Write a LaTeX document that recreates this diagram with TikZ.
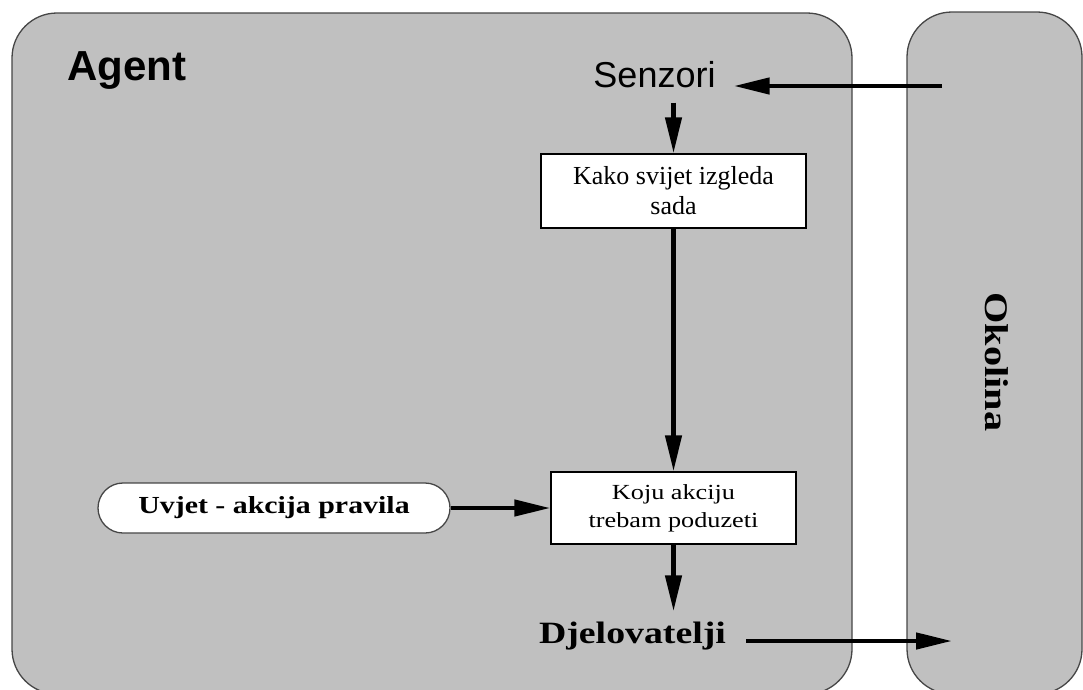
\documentclass[tikz,border=0pt]{standalone}
\usepackage{fontspec}
\setmainfont{Liberation Serif}
\newfontfamily\serifwide[FakeStretch=1.22]{Liberation Serif}
\newfontfamily\arialfont{Liberation Sans}
\usetikzlibrary{arrows.meta,shapes.misc}
\definecolor{panelgray}{RGB}{192,192,192}
\definecolor{edgegray}{RGB}{70,70,70}
\tikzset{
  panel/.style={fill=panelgray, draw=edgegray, line width=1.3pt, rounded corners=45pt},
  whitebox/.style={draw=black, fill=white, line width=1.3pt, inner sep=0pt, align=center},
  arr/.style={line width=4.5pt, -{Triangle[length=36pt,width=16pt]}},
}
\begin{document}
\begin{tikzpicture}[x=1pt,y=-1pt]
\useasboundingbox (0,0) rectangle (1083,689);
\clip (0,0) rectangle (1083,689);
% panels
\path[panel] (12,13) rectangle (852,694);
\path[panel] (907,12) rectangle (1082,694);
% labels
\node[anchor=base west, inner sep=0pt, font=\arialfont\bfseries\fontsize{42pt}{48pt}\selectfont] (agent) at (67,80) {Agent};
\node[anchor=base, inner xsep=18pt, inner ysep=15pt, font=\arialfont\fontsize{36pt}{42pt}\selectfont] (senz) at (654.5,87) {Senzori};
\node[whitebox, minimum width=265pt, minimum height=74pt, font=\fontsize{26pt}{30pt}\selectfont] (b1) at (673.5,191) {Kako svijet izgleda\\sada};
\node[whitebox, minimum width=245pt, minimum height=72pt, font=\serifwide\fontsize{21.5pt}{28pt}\selectfont] (b2) at (673.5,508) {Koju akciju\\trebam poduzeti};
\node[rounded rectangle, draw=edgegray, fill=white, line width=1.3pt, minimum width=352pt, minimum height=50pt, inner sep=0pt, font=\serifwide\bfseries\fontsize{24.5pt}{28pt}\selectfont] (uv) at (274,508) {Uvjet - akcija pravila};
\node[anchor=base, inner xsep=20pt, inner ysep=10pt, font=\serifwide\bfseries\fontsize{31pt}{36pt}\selectfont] (djel) at (632.5,643) {Djelovatelji};
\node[rotate=-90, inner sep=0pt, font=\serifwide\bfseries\fontsize{33pt}{38pt}\selectfont] (oko) at (997,362) {Okolina};
% connector ends in the environment
\coordinate (envin) at (942,86);
\coordinate (envout) at (952,641);
% connectors
\draw[arr] (envin) -- (envin -| senz.east);
\draw[arr] (senz.south -| b1.north) -- (b1.north);
\draw[arr] (b1.south) -- (b2.north);
\draw[arr] (uv.east) -- (b2.west);
\draw[arr] (b2.south) -- (djel.north -| b2.south);
\draw[arr] (djel.east |- envout) -- (envout);
\end{tikzpicture}
\end{document}
